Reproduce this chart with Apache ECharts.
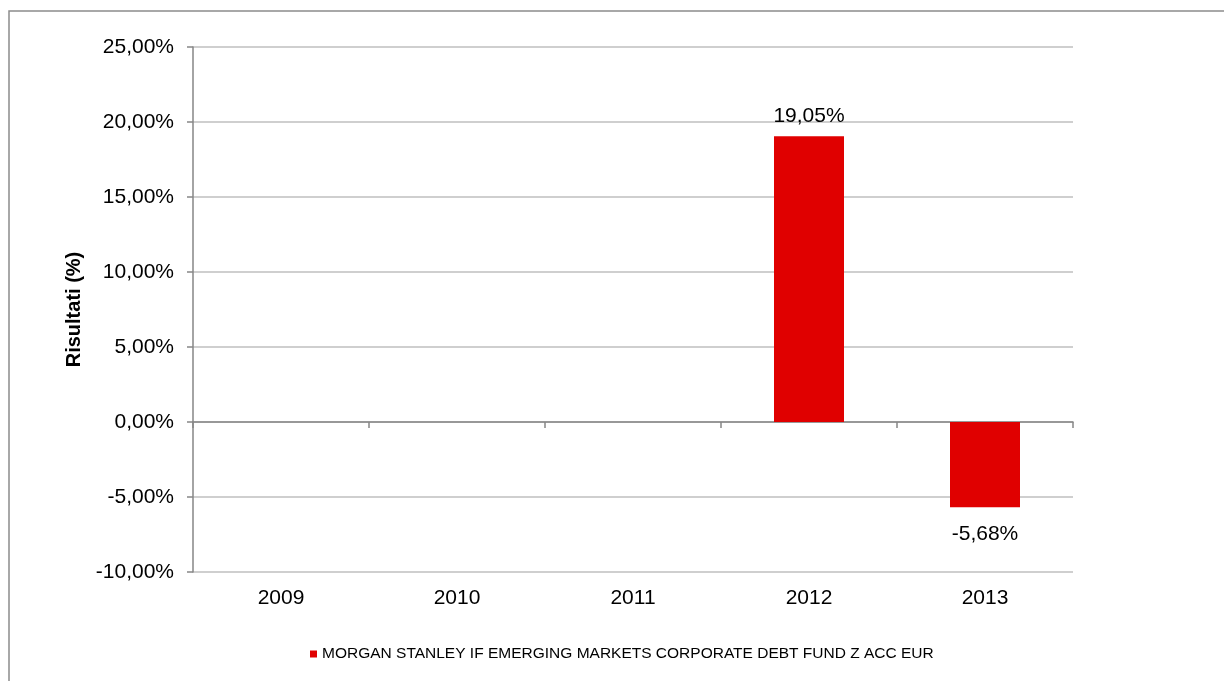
<!DOCTYPE html>
<html>
<head>
<meta charset="utf-8">
<script src="https://cdn.jsdelivr.net/npm/echarts@6/dist/echarts.min.js"></script>
<style>
  html, body { margin: 0; padding: 0; background: #fff; }
  #chart { width: 1224px; height: 681px; }
</style>
</head>
<body>
<div id="chart"></div>
<script>
const years = ['2009', '2010', '2011', '2012', '2013'];
const results = [null, null, null, 19.05, -5.68];
const seriesName = 'MORGAN STANLEY IF EMERGING MARKETS CORPORATE DEBT FUND Z ACC EUR';
const yMin = -10, yMax = 25, yStep = 5;

const fmt = v => v.toFixed(2).replace('.', ',') + '%';
const FONT = '"Liberation Sans", Arial, sans-serif';

const chart = echarts.init(document.getElementById('chart'), null, { renderer: 'canvas' });
chart.setOption({
  animation: false,
  backgroundColor: '#ffffff',
  textStyle: { fontFamily: FONT, color: '#000' },
  graphic: [{
    type: 'rect',
    shape: { x: 9, y: 11, width: 1400, height: 900 },
    style: { fill: 'none', stroke: '#8c8c8c', lineWidth: 1.5 },
    silent: true
  }],
  grid: { left: 193, right: 151, top: 47, bottom: 109, containLabel: false },
  legend: {
    left: 305, top: 641,
    icon: 'rect', itemWidth: 7, itemHeight: 7,
    textStyle: { fontFamily: FONT, fontSize: 15.5, color: '#000' },
    data: [seriesName]
  },
  xAxis: [{
    type: 'category', data: years, gridIndex: 0,
    boundaryGap: true,
    axisLine: { onZero: true, lineStyle: { color: '#868686', width: 1.5 } },
    axisTick: { show: true, inside: false, length: 6, lineStyle: { color: '#868686', width: 1.5 } },
    axisLabel: { show: false },
    splitLine: { show: false }
  }, {
    type: 'category', data: years, gridIndex: 0, position: 'bottom',
    axisLine: { show: false, onZero: false },
    axisTick: { show: false },
    axisLabel: { show: true, margin: 16, fontFamily: FONT, fontSize: 21, color: '#000' },
    splitLine: { show: false }
  }],
  yAxis: {
    type: 'value', min: yMin, max: yMax, interval: yStep,
    name: 'Risultati (%)', nameLocation: 'middle', nameGap: 107,
    nameTextStyle: { fontFamily: FONT, fontSize: 20, fontWeight: 'bold', color: '#000' },
    axisLine: { show: true, lineStyle: { color: '#868686', width: 1.5 } },
    axisTick: { show: true, inside: false, length: 6, lineStyle: { color: '#868686', width: 1.5 } },
    axisLabel: { margin: 19, fontFamily: FONT, fontSize: 21, color: '#000', formatter: fmt },
    splitLine: { show: true, lineStyle: { color: '#bfbfbf', width: 1.5 } }
  },
  series: [{
    name: seriesName,
    type: 'bar',
    xAxisIndex: 0,
    barWidth: 70,
    itemStyle: { color: '#e00000' },
    label: {
      show: true, fontFamily: FONT, fontSize: 21, color: '#000',
      formatter: p => fmt(p.value)
    },
    data: results.map(v => v == null ? null : {
      value: v,
      label: v < 0 ? { position: 'bottom', distance: 17 } : { position: 'top', distance: 10 }
    })
  }]
});
</script>
</body>
</html>
